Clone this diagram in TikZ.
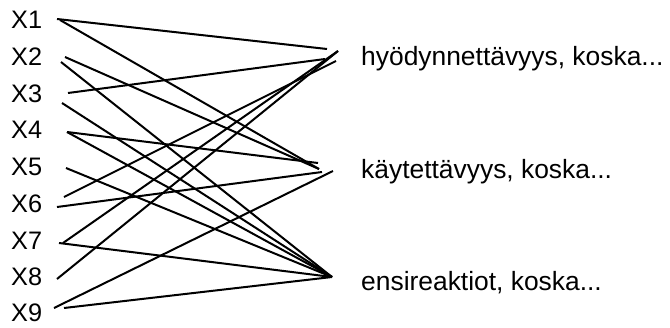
\documentclass[tikz,border=0pt]{standalone}
\usepackage{fontspec}
\setmainfont{Liberation Sans}
\begin{document}
\begin{tikzpicture}[x=1pt,y=-1pt,
  xlab/.style={anchor=west,inner sep=0pt,font=\fontsize{25.3}{30}\selectfont},
  rlab/.style={anchor=base west,inner sep=0pt,font=\fontsize{26.4}{31}\selectfont},
  link/.style={line width=2pt,line cap=butt}]
\useasboundingbox (0,0) rectangle (670,327);
% left labels
\node[xlab] (x1) at (11,19.5) {X1};
\node[xlab] (x2) at (11,57) {X2};
\node[xlab] (x3) at (11,94) {X3};
\node[xlab] (x4) at (11,130) {X4};
\node[xlab] (x5) at (11,167) {X5};
\node[xlab] (x6) at (11,204) {X6};
\node[xlab] (x7) at (11,241) {X7};
\node[xlab] (x8) at (11,277) {X8};
\node[xlab] (x9) at (11,313) {X9};
% right labels
\node[rlab] (h) at (361,65) {hyödynnettävyys, koska...};
\node[rlab] (k) at (361,178) {käytettävyys, koska...};
\node[rlab] (e) at (361,290) {ensireaktiot, koska...};
% start points
\coordinate (s1a) at (57,19);
\coordinate (s1b) at (60,20);
\coordinate (s2a) at (65,57);
\coordinate (s2b) at (61,62);
\coordinate (s3a) at (68,93);
\coordinate (s3b) at (62,103);
\coordinate (s4) at (67,132);
\coordinate (s5) at (66,168);
\coordinate (s6a) at (64,197);
\coordinate (s6b) at (57,207);
\coordinate (s7a) at (59,243);
\coordinate (s7b) at (63,243);
\coordinate (s8) at (57,279);
\coordinate (s9a) at (54,308);
\coordinate (s9b) at (64,308);
% end points
\coordinate (h1) at (327,49);
\coordinate (h2) at (325,59);
\coordinate (h3) at (338,51);
\coordinate (h4) at (336,61);
\coordinate (k1) at (319,169);
\coordinate (k2) at (318,163);
\coordinate (k3) at (322,172);
\coordinate (k4) at (333,171);
\coordinate (e1) at (332,277);
% connectors
\draw[link] (s1a) -- (h1);
\draw[link] (s1b) -- (k1);
\draw[link] (s2a) -- (k1);
\draw[link] (s2b) -- (e1);
\draw[link] (s3a) -- (h2);
\draw[link] (s3b) -- (e1);
\draw[link] (s4) -- (k2);
\draw[link] (s4) -- (e1);
\draw[link] (s5) -- (e1);
\draw[link] (s6a) -- (h4);
\draw[link] (s6b) -- (k3);
\draw[link] (s7a) -- (e1);
\draw[link] (s7b) -- (h3);
\draw[link] (s8) -- (h3);
\draw[link] (s9a) -- (k4);
\draw[link] (s9b) -- (e1);
\end{tikzpicture}
\end{document}
